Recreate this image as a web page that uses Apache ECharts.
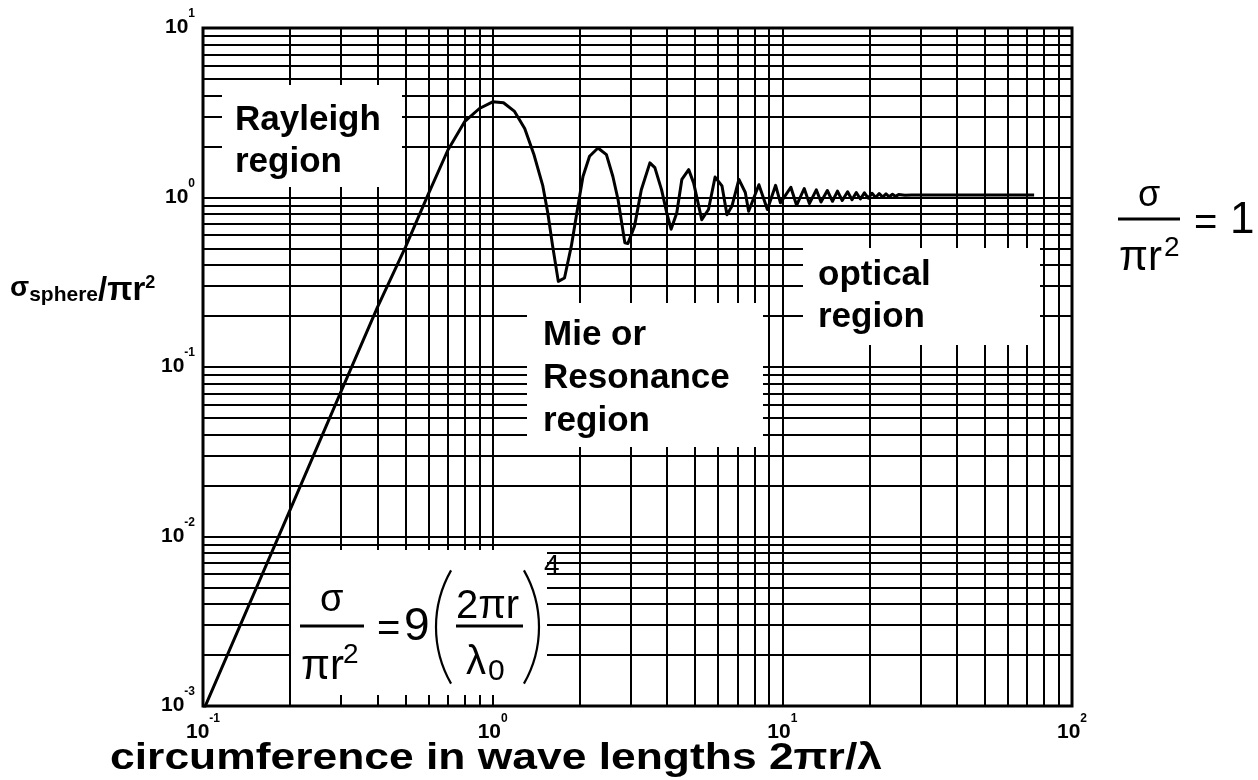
<!DOCTYPE html>
<html>
<head>
<meta charset="utf-8">
<script src="https://cdn.jsdelivr.net/npm/echarts@6/dist/echarts.min.js"></script>
<style>
  html, body { margin: 0; padding: 0; background: #fff; }
  #chart { width: 1258px; height: 780px; }
</style>
</head>
<body>
<div id="chart"></div>
<script>
// Normalised backscatter cross section of a conducting sphere vs. ka = 2*pi*r/lambda
const circumference = [
  0.1, 0.2, 0.3, 0.4, 0.5, 0.6, 0.7, 0.8, 0.9, 1.0,
  1.09, 1.19, 1.29, 1.39, 1.49, 1.55, 1.61, 1.685, 1.77, 1.87,
  1.97, 2.05, 2.16, 2.31, 2.47, 2.6, 2.71, 2.86, 2.93, 3.09,
  3.26, 3.49, 3.63, 3.83, 3.99, 4.13, 4.32, 4.5, 4.75, 4.94,
  5.27, 5.56, 5.86, 6.19, 6.44, 6.7, 7.08, 7.45, 7.65, 8.3,
  8.88, 9.48, 9.85, 10.7, 11.2, 11.9, 12.4, 13.1, 13.6, 14.3,
  14.9, 15.5, 16.1, 16.8, 17.4, 18.0, 18.6, 19.2, 19.8, 20.4,
  21.0, 21.6, 22.2, 22.8, 23.4, 24.0, 24.6, 25.2, 26.5, 28, 32, 40, 50, 60, 68, 74
];
const sigmaRatio = [
  0.00093, 0.0144, 0.072, 0.225, 0.51, 1.05, 1.9, 2.8, 3.35, 3.67,
  3.62, 3.22, 2.55, 1.78, 1.17, 0.81, 0.52, 0.32, 0.335, 0.52,
  0.89, 1.33, 1.75, 1.96, 1.79, 1.33, 0.97, 0.54, 0.535, 0.68,
  1.11, 1.6, 1.5, 1.11, 0.81, 0.65, 0.81, 1.28, 1.46, 1.22,
  0.74, 0.85, 1.32, 1.17, 0.79, 0.89, 1.28, 1.07, 0.83, 1.19,
  0.85, 1.18, 0.93, 1.15, 0.9, 1.13, 0.92, 1.11, 0.94, 1.1,
  0.95, 1.09, 0.96, 1.08, 0.97, 1.07, 0.98, 1.065, 0.99, 1.06,
  1.0, 1.055, 1.005, 1.05, 1.01, 1.045, 1.015, 1.04, 1.03, 1.035, 1.035, 1.035, 1.035, 1.035, 1.035, 1.035
];

// decade exponents shown on the axes
const xExponents = [-1, 0, 1, 2];
const yExponents = [-3, -2, -1, 0, 1];
// mantissas used for the logarithmic grid
const gridMantissas = [1, 2, 3, 4, 5, 6, 7, 8, 9];

const FONT = '"Liberation Sans", Arial, Helvetica, sans-serif';

const xMin = Math.pow(10, xExponents[0]);
const xMax = Math.pow(10, xExponents[xExponents.length - 1]);
const yMin = Math.pow(10, yExponents[0]);
const yMax = Math.pow(10, yExponents[yExponents.length - 1]);

function logGridValues(exps) {
  const vals = [];
  for (let i = 0; i < exps.length - 1; i++) {
    gridMantissas.forEach(m => vals.push(m * Math.pow(10, exps[i])));
  }
  vals.push(Math.pow(10, exps[exps.length - 1]));
  return vals;
}

const gridLines = [];
logGridValues(xExponents).forEach(v => gridLines.push({ coords: [[v, yMin], [v, yMax]] }));
logGridValues(yExponents).forEach(v => gridLines.push({ coords: [[xMin, v], [xMax, v]] }));

const curve = circumference.map((c, i) => [c, sigmaRatio[i]]);

function powerLabel(value, exps) {
  const e = Math.round(Math.log10(value));
  return exps.indexOf(e) >= 0 ? '{b|10}{s|' + e + '}' : '';
}

const tickRich = {
  b: { fontFamily: FONT, fontWeight: 'bold', fontSize: 21, lineHeight: 30, verticalAlign: 'bottom', color: '#000' },
  s: { fontFamily: FONT, fontWeight: 'bold', fontSize: 12, lineHeight: 12, verticalAlign: 'top', color: '#000' }
};

const chart = echarts.init(document.getElementById('chart'), null, { renderer: 'canvas' });

const txt = (x, y, text, size, opts) => Object.assign({
  type: 'text', x: x, y: y, z: 30,
  style: Object.assign({
    text: text, fill: '#000', font: (opts && opts.bold ? 'bold ' : '') + size + 'px ' + FONT,
    verticalAlign: 'middle', align: 'left'
  }, opts && opts.style)
}, opts && opts.el);

const whiteBox = (x, y, w, h) => ({
  type: 'rect', z: 20, shape: { x: x, y: y, width: w, height: h },
  style: { fill: '#fff' }
});

const hBar = (x1, x2, y) => ({
  type: 'line', z: 30, shape: { x1: x1, y1: y, x2: x2, y2: y },
  style: { stroke: '#000', lineWidth: 3 }
});

const paren = (cx, cy, r, a0, a1) => ({
  type: 'arc', z: 30, shape: { cx: cx, cy: cy, r: r, startAngle: a0, endAngle: a1, clockwise: true },
  style: { stroke: '#000', lineWidth: 2.2, fill: null }
});

const option = {
  backgroundColor: '#fff',
  animation: false,
  grid: {
    left: 203, top: 28, right: 186, bottom: 74,
    show: true, borderColor: '#000', borderWidth: 3, backgroundColor: 'transparent'
  },
  xAxis: {
    type: 'log', logBase: 10, min: xMin, max: xMax,
    axisLine: { show: false }, axisTick: { show: false },
    splitLine: { show: false },
    axisLabel: {
      margin: 7, formatter: v => powerLabel(v, xExponents), rich: tickRich,
      showMinLabel: true, showMaxLabel: true
    }
  },
  yAxis: {
    type: 'log', logBase: 10, min: yMin, max: yMax,
    axisLine: { show: false }, axisTick: { show: false },
    splitLine: { show: false },
    axisLabel: {
      margin: 8, padding: [0, 0, 10, 0], formatter: v => powerLabel(v, yExponents), rich: tickRich,
      showMinLabel: true, showMaxLabel: true
    }
  },
  series: [
    {
      name: 'grid',
      type: 'lines',
      coordinateSystem: 'cartesian2d',
      polyline: false,
      silent: true,
      z: 1,
      lineStyle: { color: '#000', width: 2, opacity: 1 },
      data: gridLines
    },
    {
      name: 'sigma',
      type: 'line',
      data: curve,
      showSymbol: false,
      clip: true,
      z: 40,
      lineStyle: { color: '#000', width: 3, join: 'round' }
    }
  ],
  graphic: [
    whiteBox(222, 85, 180, 102),
    whiteBox(527, 303, 236, 144),
    whiteBox(803, 248, 237, 97),
    whiteBox(291, 550, 256, 145),

    txt(235, 120, 'Rayleigh', 35, { bold: true }),
    txt(235, 162, 'region', 35, { bold: true }),

    txt(543, 335, 'Mie or', 35, { bold: true }),
    txt(543, 378, 'Resonance', 35, { bold: true }),
    txt(543, 421, 'region', 35, { bold: true }),

    txt(818, 275, 'optical', 35, { bold: true }),
    txt(818, 317, 'region', 35, { bold: true }),

    // sigma / (pi r^2) = 9 (2 pi r / lambda_0)^4
    txt(320, 601, 'σ', 38),
    hBar(300, 364, 626),
    txt(301, 667, 'πr', 42),
    txt(343, 655, '2', 28),
    txt(377, 630, '=', 40),
    txt(404, 627, '9', 46),
    paren(550, 627, 114, Math.PI - 0.52, Math.PI + 0.52),
    txt(456, 607, '2πr', 40),
    hBar(456, 523, 626),
    txt(466, 663, 'λ', 40),
    txt(488, 672, '0', 30),
    paren(425, 627, 114, -0.52, 0.52),
    txt(544, 566, '4', 28),

    // sigma / (pi r^2) = 1
    txt(1138, 196, 'σ', 36),
    hBar(1118, 1180, 219),
    txt(1119, 258, 'πr', 42),
    txt(1164, 248, '2', 28),
    txt(1194, 224, '=', 40),
    txt(1230, 221, '1', 44),

    // axis titles
    {
      type: 'text', x: 10, y: 290, z: 30,
      style: {
        text: '{g|σ}{sub|sphere}{h|/πr}{sup|2}',
        verticalAlign: 'middle',
        rich: {
          g: { font: 'bold 28px ' + FONT, fill: '#000', lineHeight: 32, verticalAlign: 'top' },
          h: { font: 'bold 33px ' + FONT, fill: '#000', lineHeight: 32, verticalAlign: 'top' },
          sub: { font: 'bold 21px ' + FONT, fill: '#000', lineHeight: 21, verticalAlign: 'bottom' },
          sup: { font: 'bold 18px ' + FONT, fill: '#000', lineHeight: 18, verticalAlign: 'top' }
        }
      }
    },
    txt(496, 759, 'circumference in wave lengths 2πr/λ', 37, {
      bold: true, style: { align: 'center' }, el: { scaleX: 1.2, originX: 0, originY: 0 }
    })
  ]
};

chart.setOption(option);
</script>
</body>
</html>
